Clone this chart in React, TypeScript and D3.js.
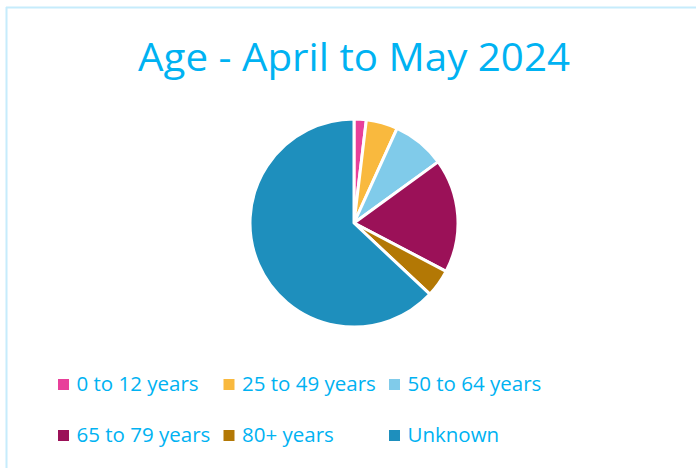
import React from "react";
import * as d3 from "d3";

const categories = ["0 to 12 years", "25 to 49 years", "50 to 64 years", "65 to 79 years", "80+ years", "Unknown"];
const values = [1.9, 4.9, 8.2, 17.7, 4.3, 63.0];
const colors = ["#e8409a", "#f9b93e", "#80cbea", "#9b1158", "#b37805", "#1e8fbd"];
const title = "Age - April to May 2024";

const W = 696;
const H = 468;
const FONT = "'Open Sans', sans-serif";
const TEXT_COLOR = "#00b2f2";

export default function App() {
  const cx = 354;
  const cy = 223;
  const r = 104;
  const pie = d3.pie<number>().sort(null).value((d) => d);
  const arcs = pie(values);
  const arc = d3.arc<d3.PieArcDatum<number>>().innerRadius(0).outerRadius(r);

  const colX = d3.scalePoint<number>().domain([0, 1, 2]).range([58, 389]);
  const rowY = d3.scalePoint<number>().domain([0, 1]).range([391, 442]);

  return (
    <div style={{ position: "fixed", left: 0, top: 0, width: W, height: H, background: "#fff" }}>
      <svg width={W} height={H} style={{ display: "block" }}>
        <rect x={0} y={0} width={W} height={H} fill="#fff" />
        <line x1={6.5} y1={7} x2={6.5} y2={H} stroke="#c6ecfc" strokeWidth={2} />
        <line x1={6} y1={7.5} x2={W} y2={7.5} stroke="#c6ecfc" strokeWidth={2} />
        <text x={354} y={71} textAnchor="middle" fill={TEXT_COLOR} fontFamily={FONT} fontSize={39} textLength={432} lengthAdjust="spacingAndGlyphs">
          {title}
        </text>
        <g transform={`translate(${cx},${cy})`}>
          {arcs.map((a, i) => (
            <path key={i} d={arc(a) || ""} fill={colors[i]} stroke="#fff" strokeWidth={3} strokeLinejoin="round" />
          ))}
        </g>
        {categories.map((c, i) => {
          const col = i % 3;
          const row = Math.floor(i / 3);
          const x = colX(col)!;
          const y = rowY(row)!;
          return (
            <g key={c}>
              <rect x={x} y={y - 12} width={11} height={11} fill={colors[i]} />
              <text x={x + 18.5} y={y} fill={TEXT_COLOR} fontFamily={FONT} fontSize={20.5}>
                {c}
              </text>
            </g>
          );
        })}
      </svg>
    </div>
  );
}
